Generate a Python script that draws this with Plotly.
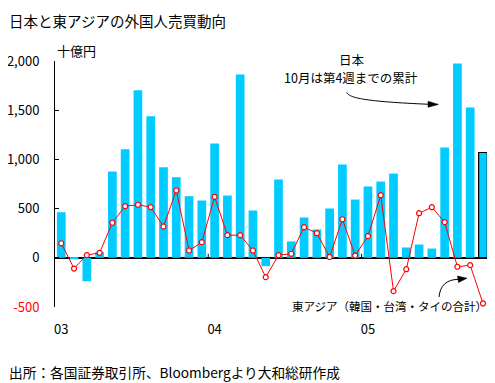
import plotly.graph_objects as go

# ---- data (十億円) ----
months = [f"{y}-{m:02d}" for y in (2003, 2004, 2005) for m in range(1, 13)][:34]
japan = [463, -15, -238, 57, 877, 1104, 1703, 1439, 921, 819, 626, 582,
         1161, 633, 1862, 481, -85, 796, 166, 410, 288, 501, 948, 592,
         725, 775, 856, 105, 135, 94, 1120, 1974, 1527, 1070]
east_asia = [148, -109, 27, 51, 356, 525, 539, 515, 318, 684, 74, 159,
             620, 230, 230, 74, -197, 27, 41, 311, 250, 8, 392, 23,
             220, 636, -339, -116, 453, 514, 362, -91, -75, -464]
year_ticks = ["2003-01", "2004-01", "2005-01"]
year_labels = ["03", "04", "05"]
y_ticks = [-500, 0, 500, 1000, 1500, 2000]
y_labels = ["<span style='color:red'>-500</span>", "0", "500", "1,000", "1,500", "2,000"]

FONT = "Noto Sans CJK JP"
OFF = 8                      # page body margin
W, H = 495 - OFF, 383 - OFF  # figure size so it fits the window
# plot area in page pixels: left 55, right 490, top 61, bottom 307
L, T = 55 - OFF, 61 - OFF
R, B = W - (490 - OFF), H - (307 - OFF)
PW, PH = W - L - R, H - T - B

def P(px, py):
    """page pixel -> paper coords"""
    return (px - OFF - L) / PW, (T + PH - (py - OFF)) / PH

def path(points, cmd):
    s = ""
    for c, pt in zip(cmd, points):
        x, y = P(*pt)
        s += f"{c} {x:.4f},{y:.4f} "
    return s

n = len(japan)
fig = go.Figure()
fig.add_trace(go.Bar(
    x=months, y=japan, width=0.68,
    marker=dict(color="#00CCFF",
                line=dict(color="black", width=[0] * (n - 1) + [1.2])),
    showlegend=False))
fig.add_trace(go.Scatter(
    x=months, y=east_asia, mode="lines+markers",
    line=dict(color="red", width=1),
    marker=dict(symbol="circle", size=5, color="white",
                line=dict(color="red", width=1.2)),
    showlegend=False))

shapes = []
# small year-boundary ticks on the zero line
for i in range(12, n, 12):
    shapes.append(dict(type="line", xref="x", yref="y", x0=i - 0.5, x1=i - 0.5,
                       ysizemode="pixel", yanchor=0, y0=0, y1=4,
                       line=dict(color="black", width=1)))
# curved arrows
shapes.append(dict(type="path", xref="paper", yref="paper",
                   path=path([(346.7, 92.3), (349, 98), (365, 101.5), (429, 104.3)], "MC  "),
                   line=dict(color="black", width=1)))
shapes.append(dict(type="path", xref="paper", yref="paper",
                   path=path([(428, 101.3), (438.5, 104.4), (428, 107.3)], "MLL") + "Z",
                   fillcolor="black", line=dict(color="black", width=0.5)))
shapes.append(dict(type="path", xref="paper", yref="paper",
                   path=path([(439, 297), (440, 286), (446, 279.5), (458.5, 279.3)], "MC  "),
                   line=dict(color="black", width=1)))
shapes.append(dict(type="path", xref="paper", yref="paper",
                   path=path([(457.5, 276.0), (467, 278.2), (458.5, 282.6)], "MLL") + "Z",
                   fillcolor="black", line=dict(color="black", width=0.5)))

ann = []
def text(t, px, py, size=13, anchor="center", yanchor="middle"):
    x, y = P(px, py)
    ann.append(dict(text=t, x=x, y=y, xref="paper", yref="paper", showarrow=False,
                    xanchor=anchor, yanchor=yanchor, borderpad=0,
                    font=dict(family=FONT, size=size, color="black")))

text("日本と東アジアの外国人売買動向", 8, 8.5, size=14.5, anchor="left", yanchor="top")
text("十億円", 76, 50)
text("日本", 352, 60, size=12.5)
text("10月は第4週までの累計", 351, 77, size=12.5)
text("東アジア（韓国・台湾・タイの合計）", 389, 306, size=11.5)
text("出所：各国証券取引所、Bloombergより大和総研作成", 8, 372, size=13.7, anchor="left")

fig.update_layout(
    width=W, height=H,
    margin=dict(l=L, r=R, t=T, b=B, autoexpand=False),
    paper_bgcolor="white", plot_bgcolor="white",
    font=dict(family=FONT, size=13, color="black"),
    shapes=shapes,
    annotations=ann,
)
fig.update_xaxes(type="category", range=[-0.49, 33.55], tickvals=year_ticks,
                 ticktext=year_labels, showgrid=False, showline=False, ticks="",
                 ticklabelstandoff=13, tickfont=dict(size=13), automargin=False)
fig.update_yaxes(range=[-500, 2000], tickvals=y_ticks, ticktext=y_labels,
                 showgrid=False, showline=True, linecolor="black", linewidth=1,
                 ticks="inside", ticklen=4, tickcolor="black",
                 zeroline=True, zerolinecolor="black", zerolinewidth=1.5,
                 ticklabelstandoff=12, tickfont=dict(size=13), automargin=False)

fig.write_html("out.html")
